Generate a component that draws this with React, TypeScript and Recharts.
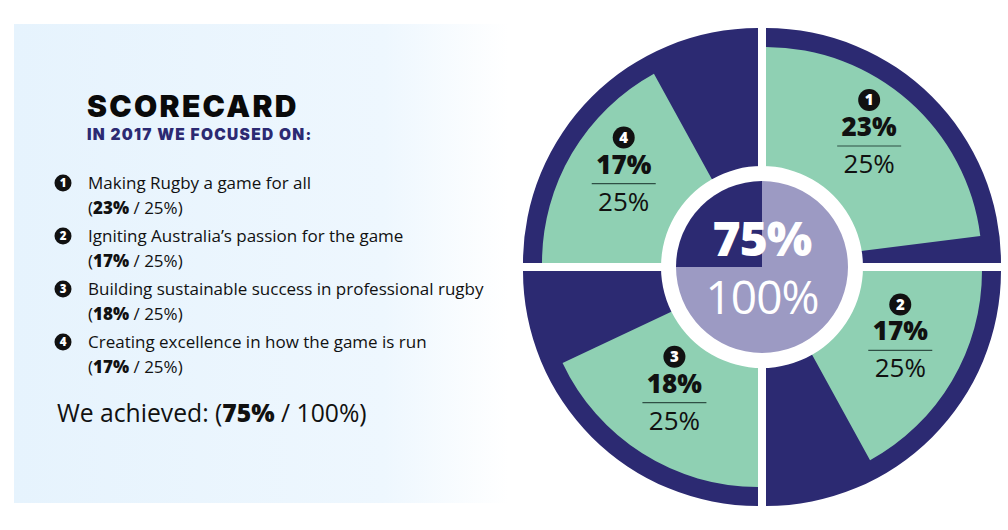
import { PieChart, Pie, Cell, Sector } from 'recharts';

// scorecard values
const goalNumbers = ['1', '2', '3', '4'];
const goalTitles = [
  'Making Rugby a game for all',
  'Igniting Australia’s passion for the game',
  'Building sustainable success in professional rugby',
  'Creating excellence in how the game is run',
];
const achieved = [23, 17, 18, 17];
const available = [25, 25, 25, 25];

const NAVY = '#2c2a72';
const GREEN = '#8fd0b3';
const LAVENDER = '#9c9ac3';
const GAP = 4;
const RADIAN = Math.PI / 180;

const totalAchieved = achieved.reduce((a, b) => a + b, 0);
const totalAvailable = available.reduce((a, b) => a + b, 0);

const quadrantData = goalNumbers.map((g, i) => ({ name: g, value: available[i] }));
const scoreData = goalNumbers.flatMap((g, i) => [
  { name: g, value: achieved[i], kind: 'achieved', idx: i },
  { name: g + '-left', value: available[i] - achieved[i], kind: 'left', idx: i },
]);
const overallData = [
  { name: 'achieved', value: totalAchieved },
  { name: 'left', value: totalAvailable - totalAchieved },
];

// push each quadrant away from the centre so a white cross shows between them
const shiftFor = (midAngle: number) => {
  const dx = Math.cos(-midAngle * RADIAN) >= 0 ? GAP : -GAP;
  const dy = Math.sin(-midAngle * RADIAN) >= 0 ? GAP : -GAP;
  return { dx, dy };
};

const ShiftedSector = (props: any) => {
  const { dx, dy } = shiftFor(props.midAngle);
  return (
    <g transform={`translate(${dx},${dy})`}>
      <Sector
        cx={props.cx}
        cy={props.cy}
        innerRadius={props.innerRadius}
        outerRadius={props.outerRadius}
        startAngle={props.startAngle}
        endAngle={props.endAngle}
        fill={props.fill}
        stroke="none"
      />
    </g>
  );
};

const ScoreLabel = (props: any) => {
  const { cx, cy, midAngle, index } = props;
  if (index % 2 === 1) return null;
  const i = Math.floor(index / 2);
  const { dx, dy } = shiftFor(midAngle);
  const r = 156;
  const x = cx + r * Math.cos(-midAngle * RADIAN) + dx;
  const y = cy + r * Math.sin(-midAngle * RADIAN) + dy;
  return (
    <g fontFamily="'Open Sans', sans-serif" textAnchor="middle">
      <circle cx={x} cy={y - 46} r={11} fill="#111" />
      <text x={x} y={y - 40.5} fill="#fff" fontSize={15} fontWeight={800}>
        {goalNumbers[i]}
      </text>
      <text x={x} y={y - 10} fill="#111" fontSize={26} fontWeight={800}>
        {achieved[i]}%
      </text>
      <line x1={x - 32} x2={x + 32} y1={y} y2={y} stroke="#2f4f45" strokeWidth={1.2} />
      <text x={x} y={y + 27} fill="#111" fontSize={26} fontWeight={400}>
        {available[i]}%
      </text>
    </g>
  );
};

const CenterLabel = (props: any) => {
  const { cx, cy, index } = props;
  if (index !== 0) return null;
  return (
    <g fontFamily="'Open Sans', sans-serif" textAnchor="middle" fill="#fff">
      <text x={cx} y={cy - 11} fontSize={48} fontWeight={800} letterSpacing={-1}>
        {totalAchieved}%
      </text>
      <text x={cx} y={cy + 47} fontSize={46} fontWeight={400} letterSpacing={-1}>
        {totalAvailable}%
      </text>
    </g>
  );
};

const itemBaselines = [189, 242, 295, 348];

const LeftPanel = () => (
  <svg width={508} height={530} style={{ position: 'absolute', left: 0, top: 0 }}>
    <defs>
      <linearGradient id="panelFade" x1="0" y1="0" x2="1" y2="0">
        <stop offset="0" stopColor="#e6f3fd" />
        <stop offset="0.75" stopColor="#eef7fe" />
        <stop offset="1" stopColor="#ffffff" />
      </linearGradient>
    </defs>
    <rect x={14} y={24} width={494} height={479} fill="url(#panelFade)" />
    <text x={87} y={117} fontFamily="Inter, sans-serif" fontSize={30} fontWeight={900} letterSpacing={2.3} fill="#0a0a0a">
      SCORECARD
    </text>
    <text x={87} y={140} fontFamily="Inter, sans-serif" fontSize={15.5} fontWeight={900} letterSpacing={1.3} fill={NAVY}>
      IN 2017 WE FOCUSED ON:
    </text>
    {goalTitles.map((title, i) => (
      <g key={title} fontFamily="'Open Sans', sans-serif" fill="#111">
        <circle cx={63} cy={itemBaselines[i] - 6} r={8.5} fill="#111" />
        <text x={63} y={itemBaselines[i] - 2} fontSize={11.5} fontWeight={800} fill="#fff" textAnchor="middle">
          {goalNumbers[i]}
        </text>
        <text x={88} y={itemBaselines[i]} fontSize={17}>
          {title}
        </text>
        <text x={88} y={itemBaselines[i] + 25} fontSize={17}>
          (<tspan fontWeight={800}>{achieved[i]}%</tspan> / {available[i]}%)
        </text>
      </g>
    ))}
    <text x={57} y={422} fontFamily="'Open Sans', sans-serif" fontSize={24.7} fill="#111">
      We achieved: (<tspan fontWeight={800}>{totalAchieved}%</tspan> / {totalAvailable}%)
    </text>
  </svg>
);

export default function App() {
  return (
    <div style={{ position: 'absolute', left: 0, top: 0, width: 1008, height: 530, background: '#fff' }}>
      <LeftPanel />
      <div style={{ position: 'absolute', left: 508, top: 0 }}>
        <PieChart width={500} height={530}>
          <Pie
            data={quadrantData}
            dataKey="value"
            cx={249}
            cy={262}
            startAngle={90}
            endAngle={-270}
            innerRadius={80}
            outerRadius={235}
            fill={NAVY}
            stroke="none"
            shape={ShiftedSector}
            isAnimationActive={false}
          />
          <Pie
            data={scoreData}
            dataKey="value"
            cx={249}
            cy={262}
            startAngle={90}
            endAngle={-270}
            innerRadius={80}
            outerRadius={216}
            stroke="none"
            shape={ShiftedSector}
            label={ScoreLabel}
            labelLine={false}
            isAnimationActive={false}
          >
            {scoreData.map((d) => (
              <Cell key={d.name} fill={d.kind === 'achieved' ? GREEN : 'transparent'} />
            ))}
          </Pie>
          <Pie
            data={[{ name: 'ring', value: 1 }]}
            dataKey="value"
            cx={249}
            cy={262}
            innerRadius={0}
            outerRadius={101}
            fill="#ffffff"
            stroke="none"
            isAnimationActive={false}
          />
          <Pie
            data={overallData}
            dataKey="value"
            cx={249}
            cy={262}
            startAngle={90}
            endAngle={-270}
            innerRadius={0}
            outerRadius={86}
            stroke="none"
            label={CenterLabel}
            labelLine={false}
            isAnimationActive={false}
          >
            <Cell fill={LAVENDER} />
            <Cell fill={NAVY} />
          </Pie>
        </PieChart>
      </div>
    </div>
  );
}
